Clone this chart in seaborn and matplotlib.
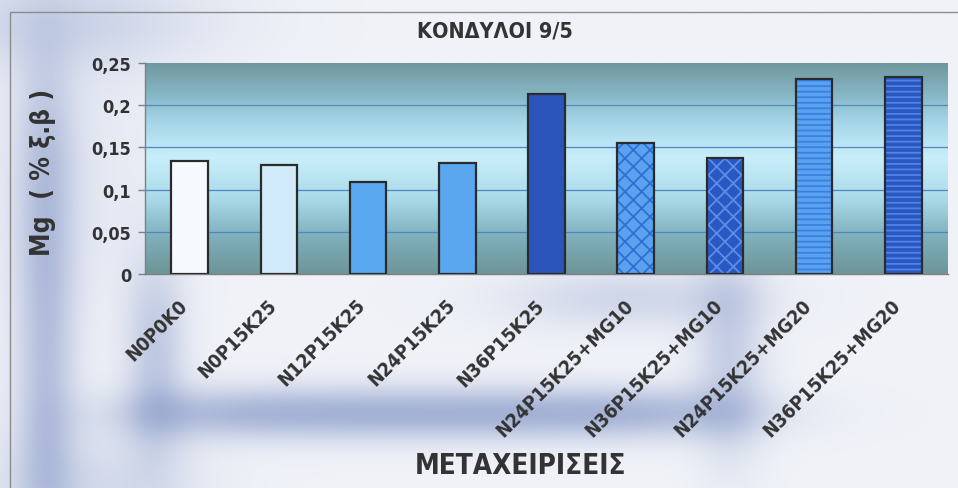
import numpy as np
import pandas as pd
import seaborn as sns
import matplotlib.pyplot as plt
import matplotlib.transforms as mtrans
from matplotlib.colors import LinearSegmentedColormap
from matplotlib.patches import Rectangle

# data
treatments = ["N0P0K0", "N0P15K25", "N12P15K25", "N24P15K25", "N36P15K25",
              "N24P15K25+MG10", "N36P15K25+MG10", "N24P15K25+MG20", "N36P15K25+MG20"]
mg_values = [0.1335, 0.129, 0.1095, 0.132, 0.2135, 0.1555, 0.1375, 0.2305, 0.233]
bar_colors = ["#f6f9fe", "#d2ebfa", "#5aa8f0", "#5aa6ef", "#2b55bb",
              "#5aa2ef", "#2b57c2", "#5aa2ef", "#2b57c2"]
bar_hatches = [None, None, None, None, None, "xx", "xx", "---", "---"]
hatch_colors = [None, None, None, None, None, "#2f6fd0", "#5a8ee6", "#3a80e0", "#4f84e4"]
ytick_vals = [0, 0.05, 0.1, 0.15, 0.2, 0.25]
ytick_text = ["0", "0,05", "0,1", "0,15", "0,2", "0,25"]

title = "ΚΟΝΔΥΛΟΙ 9/5"
ylabel = "Mg  ( % ξ.β )"
xlabel = "ΜΕΤΑΧΕΙΡΙΣΕΙΣ"

sns.set_theme(style="white")
plt.rcParams['font.family'] = ['DejaVu Sans']
plt.rcParams['font.stretch'] = 'condensed'
plt.rcParams['font.weight'] = 'bold'
plt.rcParams['hatch.linewidth'] = 1.3

df = pd.DataFrame({"treatment": treatments, "mg": mg_values})

W, H = 958, 489
fig = plt.figure(figsize=(W / 100, H / 100), dpi=100)

# blurry blue backdrop behind the whole chart (pixel grid, y from top)
bg = fig.add_axes([0, 0, 1, 1], zorder=-10)
yy, xx = np.mgrid[0:H:245j, 0:W:480j]


def soft(v, lo, hi, s):
    return 1 / (1 + np.exp(-(v - lo) / s)) * (1 - 1 / (1 + np.exp(-(v - hi) / s)))


shade = 0.50 * np.exp(-((yy - 415) / 26) ** 2) * soft(xx, 150, 730, 40)
shade += 0.38 * np.exp(-((xx - 45) / 30) ** 2) * soft(yy, 80, 520, 40)
shade += 0.35 * np.exp(-((xx - 155) / 30) ** 2) * soft(yy, 280, 440, 30)
shade += 0.30 * np.exp(-((xx - 730) / 35) ** 2) * soft(yy, 270, 440, 30)
shade += 0.25 * np.exp(-((yy - 300) / 30) ** 2) * soft(xx, 540, 720, 40)
shade += 0.22 * np.exp(-((yy - 20) / 50) ** 2) * np.exp(-((xx - 60) / 150) ** 2)
shade += 0.25 * soft(yy, 450, 540, 20) * soft(xx, 0, 180, 30)
shade += 0.10 * soft(yy, 60, 290, 40) * soft(xx, 0, 140, 30)
bg_cmap = LinearSegmentedColormap.from_list("bg", ["#f0f2f8", "#aab7d8", "#7788be"])
bg.imshow(shade, cmap=bg_cmap, vmin=0, vmax=0.9, origin="upper",
          extent=[0, 1, 0, 1], aspect="auto", interpolation="bilinear")
bg.set_axis_off()
fig.add_artist(Rectangle((0.01, -0.01), 1.0, 0.984, transform=fig.transFigure,
                         fill=False, edgecolor="#8c8c8c", linewidth=1))

ax = fig.add_axes([0.1514, 0.4376, 0.8382, 0.4315])

# plot area gradient: darker teal at top and bottom, pale blue in the middle
grad_cmap = LinearSegmentedColormap.from_list(
    "plotarea",
    [(0.0, "#6e9598"), (0.18, "#7fb0bc"), (0.35, "#a9d9e8"), (0.55, "#c9eefa"),
     (0.72, "#a4d6e8"), (0.85, "#86b6c4"), (1.0, "#6f969e")])
ax.imshow(np.linspace(0, 1, 256).reshape(-1, 1), cmap=grad_cmap, origin="lower",
          extent=[-0.5, 8.5, 0, 0.25], aspect="auto", zorder=0)

sns.barplot(data=df, x="treatment", y="mg", hue="treatment", palette=bar_colors,
            legend=False, width=0.41, edgecolor="#2b2b2b", linewidth=1.6,
            saturation=1, ax=ax, zorder=3)

# hatched bars: hatch takes the edge colour, so redraw the dark outline on top
for patch, hatch, hcol in zip(list(ax.patches), bar_hatches, hatch_colors):
    if hatch:
        patch.set_hatch(hatch)
        patch.set_edgecolor(hcol)
        patch.set_linewidth(0)
        ax.add_patch(Rectangle(patch.get_xy(), patch.get_width(), patch.get_height(),
                               fill=False, edgecolor="#2b2b2b", linewidth=1.6, zorder=4))

ax.set_xlim(-0.5, 8.5)
ax.set_ylim(0, 0.25)
for v in ytick_vals[1:-1]:
    ax.axhline(v, color="#4f86c6", linewidth=0.9, zorder=1)

ax.set_yticks(ytick_vals)
ax.set_yticklabels(ytick_text, fontsize=13, fontweight="bold", color="#333333")

# slanted category labels, ending just left of each bar centre
ax.set_xticks(range(len(treatments)))
ax.set_xticklabels([])
label_tr = ax.get_xaxis_transform() + mtrans.ScaledTranslation(-12 / 100, -21 / 100,
                                                               fig.dpi_scale_trans)
for i, name in enumerate(treatments):
    ax.text(i, 0, name, transform=label_tr, rotation=45, rotation_mode="anchor",
            ha="right", va="top", fontsize=14, fontweight="bold", color="#333333")

ax.set_xticks(np.arange(-0.5, 9.0, 1.0), minor=True)
ax.tick_params(axis="x", which="major", length=0)
ax.tick_params(axis="x", which="minor", length=5, color="#808080", width=1, direction="out")
ax.tick_params(axis="y", which="major", length=5, color="#808080", width=1,
               direction="out", left=True, pad=5)

for side in ["top", "right"]:
    ax.spines[side].set_visible(False)
for side in ["left", "bottom"]:
    ax.spines[side].set_color("#808080")
    ax.spines[side].set_linewidth(1)

ax.set_xlabel("")
ax.set_ylabel("")
fig.text(0.517, 0.935, title, ha="center", va="center", fontsize=15.5,
         fontweight="bold", color="#333333")
fig.text(0.045, 0.648, ylabel, ha="center", va="center", rotation=90,
         fontsize=19, fontweight="bold", color="#333333")
fig.text(0.543, 0.048, xlabel, ha="center", va="center", fontsize=20,
         fontweight="bold", color="#333333")

fig.savefig("out.png", dpi=100)
